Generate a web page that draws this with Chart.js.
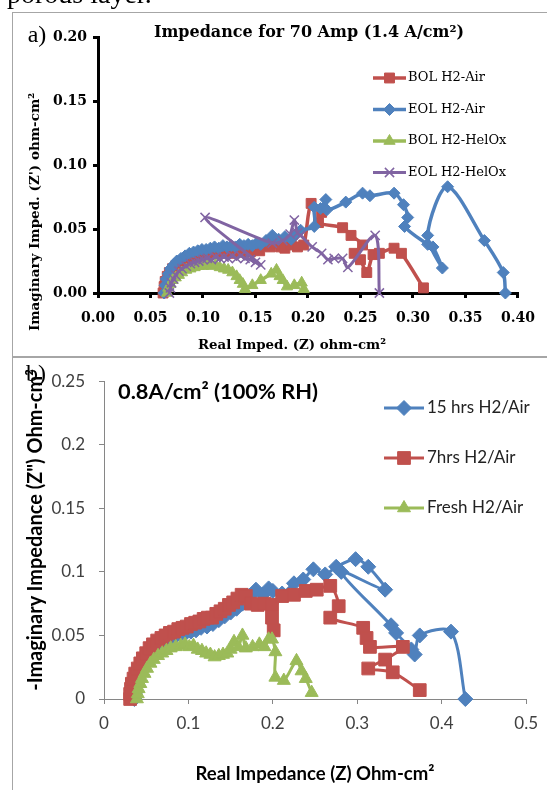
<!DOCTYPE html>
<html>
<head>
<meta charset="utf-8">
<script src="https://cdn.jsdelivr.net/npm/chart.js@4.4.1/dist/chart.umd.min.js"></script>
<style>
  body { margin: 0; background: #fff; width: 547px; height: 790px; position: relative; overflow: hidden; }
  canvas { position: absolute; left: 0; }
  .t { position: absolute; white-space: nowrap; line-height: 1; color: #000; transform: translate(-50%, -50%); }
  .rot { transform: translate(-50%, -50%) rotate(-90deg); }
  .serif { font-family: "DejaVu Serif", serif; font-weight: bold; font-size: 13px; }
  .sans { font-family: Lato, "Noto Sans", sans-serif; font-weight: bold; font-size: 16px; }
  .times { font-family: "Liberation Serif", serif; }
  .line { position: absolute; background: #a6a6a6; }
</style>
</head>
<body>
<!-- cadres gris des deux panneaux -->
<div class="line" style="left:12px;top:12px;width:1px;height:778px"></div>
<div class="line" style="left:12px;top:12px;width:535px;height:1px"></div>
<div class="line" style="left:12px;top:356px;width:535px;height:2px"></div>

<canvas id="chartA" width="547" height="357" style="top:0"></canvas>
<canvas id="chartB" width="547" height="433" style="top:357px"></canvas>

<div class="times" style="position:absolute;left:7px;top:-20px;font-size:28px;line-height:1;white-space:nowrap">porous layer.</div>
<div class="t times" style="left:37px;top:34px;font-size:24px">a)</div>
<div class="t times" style="left:36px;top:373px;font-size:24px">b)</div>

<div class="t serif" data-w="310" style="left:309px;top:32px">Impedance for 70 Amp (1.4 A/cm²)</div>
<div class="t serif rot" data-w="238" style="left:35px;top:212px">Imaginary Imped. (Z') ohm-cm²</div>
<div class="t serif" data-w="188" style="left:292px;top:345px">Real Imped. (Z) ohm-cm²</div>

<div class="t sans" data-w="200" style="left:218px;top:391px;font-size:18px">0.8A/cm² (100% RH)</div>
<div class="t sans rot" data-w="322" style="left:35px;top:530px">-Imaginary Impedance (Z") Ohm-cm²</div>
<div class="t sans" data-w="239" style="left:315px;top:773px">Real Impedance (Z) Ohm-cm²</div>

<script>
// ---- graphique a) : 70 A (1.4 A/cm2) ----
const bolAirX = [0.062, 0.063, 0.064, 0.066, 0.068, 0.071, 0.074, 0.077, 0.081, 0.085, 0.089, 0.093, 0.097, 0.101, 0.105, 0.109, 0.113, 0.117, 0.121, 0.125, 0.129, 0.133, 0.137, 0.141, 0.145, 0.149, 0.154, 0.159, 0.164, 0.169, 0.174, 0.178, 0.184, 0.190, 0.196, 0.203, 0.213, 0.210, 0.233, 0.241, 0.252, 0.244, 0.250, 0.256, 0.262, 0.268, 0.282, 0.289, 0.310];
const bolAirY = [0.000, 0.005, 0.009, 0.013, 0.016, 0.019, 0.021, 0.023, 0.025, 0.026, 0.027, 0.028, 0.029, 0.030, 0.030, 0.031, 0.031, 0.032, 0.031, 0.032, 0.031, 0.033, 0.032, 0.033, 0.032, 0.034, 0.033, 0.037, 0.036, 0.039, 0.036, 0.035, 0.0375, 0.036, 0.0375, 0.070, 0.063, 0.055, 0.051, 0.045, 0.0375, 0.031, 0.026, 0.016, 0.030, 0.031, 0.035, 0.031, 0.004];

const eolAirX = [0.063, 0.064, 0.065, 0.067, 0.069, 0.072, 0.075, 0.079, 0.083, 0.087, 0.091, 0.095, 0.099, 0.103, 0.107, 0.111, 0.115, 0.119, 0.123, 0.127, 0.131, 0.135, 0.139, 0.143, 0.147, 0.151, 0.155, 0.160, 0.166, 0.172, 0.178, 0.184, 0.189, 0.193, 0.206, 0.206, 0.212, 0.217, 0.218, 0.236, 0.252, 0.259, 0.282, 0.291, 0.295, 0.292, 0.314, 0.319, 0.328, 0.314, 0.333, 0.368, 0.386, 0.388];
const eolAirY = [0.000, 0.006, 0.011, 0.015, 0.019, 0.022, 0.025, 0.027, 0.029, 0.031, 0.032, 0.033, 0.034, 0.034, 0.035, 0.036, 0.035, 0.037, 0.036, 0.037, 0.036, 0.038, 0.037, 0.038, 0.037, 0.039, 0.038, 0.041, 0.045, 0.042, 0.044, 0.042, 0.046, 0.049, 0.052, 0.067, 0.066, 0.073, 0.065, 0.071, 0.078, 0.076, 0.078, 0.069, 0.059, 0.052, 0.038, 0.036, 0.0195, 0.045, 0.083, 0.041, 0.016, 0.000];

const bolHelX = [0.066, 0.067, 0.069, 0.071, 0.074, 0.077, 0.080, 0.084, 0.088, 0.092, 0.096, 0.100, 0.104, 0.108, 0.112, 0.116, 0.120, 0.124, 0.128, 0.132, 0.135, 0.138, 0.140, 0.147, 0.155, 0.165, 0.170, 0.173, 0.176, 0.180, 0.187, 0.194, 0.196];
const bolHelY = [0.000, 0.004, 0.007, 0.010, 0.012, 0.014, 0.016, 0.018, 0.019, 0.020, 0.021, 0.021, 0.022, 0.021, 0.022, 0.020, 0.019, 0.018, 0.016, 0.013, 0.010, 0.007, 0.003, 0.006, 0.010, 0.015, 0.018, 0.013, 0.010, 0.005, 0.006, 0.008, 0.003];

const eolHelX = [0.068, 0.069, 0.070, 0.072, 0.074, 0.077, 0.080, 0.084, 0.088, 0.092, 0.096, 0.100, 0.104, 0.108, 0.112, 0.116, 0.120, 0.124, 0.128, 0.132, 0.136, 0.140, 0.145, 0.150, 0.155, 0.102, 0.166, 0.176, 0.183, 0.187, 0.190, 0.193, 0.204, 0.213, 0.219, 0.225, 0.233, 0.238, 0.264, 0.268];
const eolHelY = [0.000, 0.004, 0.008, 0.011, 0.014, 0.017, 0.019, 0.021, 0.023, 0.024, 0.025, 0.026, 0.027, 0.026, 0.028, 0.027, 0.028, 0.027, 0.029, 0.027, 0.029, 0.027, 0.026, 0.024, 0.022, 0.059, 0.039, 0.041, 0.046, 0.057, 0.047, 0.045, 0.036, 0.031, 0.026, 0.027, 0.027, 0.020, 0.045, 0.000];

const ticksA_x = [0, 0.40, 0.05];   // min, max, pas
const ticksA_y = [0, 0.20, 0.05];

// ---- graphique b) : 0.8 A/cm2 (100% RH) ----
const h15X = [0.036, 0.037, 0.038, 0.040, 0.042, 0.045, 0.048, 0.052, 0.056, 0.061, 0.066, 0.072, 0.078, 0.084, 0.091, 0.097, 0.103, 0.109, 0.115, 0.122, 0.129, 0.136, 0.143, 0.150, 0.157, 0.164, 0.172, 0.180, 0.188, 0.195, 0.200, 0.211, 0.225, 0.236, 0.248, 0.262, 0.275, 0.298, 0.313, 0.333, 0.281, 0.340, 0.346, 0.364, 0.368, 0.374, 0.411, 0.428];
const h15Y = [0.000, 0.005, 0.010, 0.015, 0.020, 0.024, 0.028, 0.032, 0.036, 0.039, 0.042, 0.045, 0.047, 0.049, 0.051, 0.052, 0.053, 0.054, 0.056, 0.057, 0.059, 0.062, 0.065, 0.068, 0.071, 0.075, 0.081, 0.086, 0.082, 0.087, 0.085, 0.083, 0.091, 0.094, 0.102, 0.098, 0.104, 0.110, 0.104, 0.086, 0.100, 0.058, 0.052, 0.039, 0.035, 0.050, 0.053, 0.000];

const h7X = [0.031, 0.031, 0.032, 0.033, 0.035, 0.037, 0.040, 0.043, 0.046, 0.050, 0.054, 0.058, 0.063, 0.068, 0.073, 0.078, 0.083, 0.088, 0.093, 0.098, 0.103, 0.108, 0.113, 0.118, 0.123, 0.128, 0.133, 0.138, 0.143, 0.148, 0.153, 0.158, 0.163, 0.168, 0.174, 0.182, 0.190, 0.199, 0.201, 0.199, 0.211, 0.225, 0.239, 0.252, 0.268, 0.278, 0.268, 0.307, 0.311, 0.315, 0.354, 0.333, 0.313, 0.342, 0.374];
const h7Y = [0.000, 0.004, 0.008, 0.012, 0.016, 0.020, 0.024, 0.028, 0.032, 0.036, 0.040, 0.043, 0.046, 0.048, 0.050, 0.052, 0.053, 0.055, 0.056, 0.057, 0.059, 0.060, 0.061, 0.063, 0.064, 0.064, 0.067, 0.069, 0.071, 0.074, 0.076, 0.079, 0.082, 0.081, 0.075, 0.074, 0.075, 0.074, 0.054, 0.064, 0.081, 0.082, 0.085, 0.086, 0.089, 0.073, 0.064, 0.056, 0.048, 0.041, 0.041, 0.031, 0.024, 0.021, 0.007];

const freshX = [0.039, 0.040, 0.041, 0.043, 0.045, 0.048, 0.051, 0.055, 0.059, 0.064, 0.069, 0.074, 0.079, 0.085, 0.091, 0.096, 0.101, 0.106, 0.111, 0.116, 0.121, 0.126, 0.131, 0.136, 0.141, 0.146, 0.150, 0.154, 0.159, 0.164, 0.168, 0.176, 0.184, 0.190, 0.195, 0.199, 0.203, 0.203, 0.213, 0.228, 0.234, 0.239, 0.246];
const freshY = [0.000, 0.004, 0.008, 0.012, 0.016, 0.020, 0.024, 0.028, 0.031, 0.034, 0.036, 0.038, 0.040, 0.041, 0.042, 0.043, 0.041, 0.042, 0.039, 0.038, 0.036, 0.035, 0.033, 0.034, 0.035, 0.036, 0.039, 0.045, 0.041, 0.050, 0.040, 0.041, 0.043, 0.041, 0.047, 0.047, 0.037, 0.017, 0.0145, 0.030, 0.022, 0.016, 0.005];

const ticksB_x = [0, 0.5, 0.1];
const ticksB_y = [0, 0.25, 0.05];

// couleurs Excel
const BLUE = '#4f81bd', RED = '#c0504d', GREEN = '#9bbb59', PURPLE = '#8064a2';

// ajuste la taille de police des textes pour tomber sur la largeur du modèle
document.querySelectorAll('[data-w]').forEach(el => {
    const size = parseFloat(getComputedStyle(el).fontSize);
    el.style.fontSize = (size * (+el.dataset.w) / el.offsetWidth) + 'px';
});

function serie(label, xs, ys, color, style, radius, order, pbw, bw) {
    return {
        label: label,
        data: xs.map((x, i) => ({ x: x, y: ys[i] })),
        borderColor: color,
        backgroundColor: color,
        pointBackgroundColor: color,
        pointBorderColor: color,
        pointStyle: style,
        pointRadius: radius,
        pointBorderWidth: pbw || 1,
        borderWidth: bw || 3,
        showLine: true,
        tension: 0.3,
        clip: 12,
        order: order
    };
}

// légende verticale dessinée à la main (entrées à gauche, pas fixe)
const sideLegend = {
    id: 'sideLegend',
    afterDatasetsDraw(chart, args, o) {
        const ctx = chart.ctx;
        chart.data.datasets.forEach((ds, i) => {
            const y = o.y + i * o.gap;
            ctx.save();
            ctx.strokeStyle = ds.borderColor;
            ctx.lineWidth = ds.borderWidth;
            ctx.beginPath();
            ctx.moveTo(o.x, y);
            ctx.lineTo(o.x + o.len, y);
            ctx.stroke();
            ctx.fillStyle = ds.pointBackgroundColor;
            ctx.strokeStyle = ds.pointBorderColor;
            ctx.lineWidth = ds.pointBorderWidth;
            Chart.helpers.drawPoint(ctx, { pointStyle: ds.pointStyle, radius: ds.pointRadius, borderWidth: ds.pointBorderWidth, rotation: 0 }, o.x + o.len / 2, y);
            ctx.fillStyle = o.color;
            ctx.font = o.font;
            ctx.textBaseline = 'middle';
            ctx.textAlign = 'left';
            ctx.fillText(ds.label, o.x + o.len + o.pad, y);
            ctx.restore();
        });
    }
};

function axe(lim, opts) {
    return {
        type: 'linear',
        min: lim[0],
        max: lim[1],
        border: { color: opts.color, width: opts.width },
        grid: { drawOnChartArea: false, drawTicks: true, tickLength: 5, color: opts.color, lineWidth: opts.width },
        ticks: {
            stepSize: lim[2],
            autoSkip: false,
            maxRotation: 0,
            padding: opts.pad,
            color: opts.text,
            font: opts.font,
            callback: opts.fmt
        },
        afterFit: opts.fit
    };
}

// Graphique a)
const fontA = { family: 'DejaVu Serif', weight: 'bold', size: 14 };
new Chart(document.getElementById('chartA').getContext('2d'), {
    type: 'scatter',
    data: {
        datasets: [
            serie('BOL H2-Air', bolAirX, bolAirY, RED, 'rect', 7, 4, 1, 3.5),
            serie('EOL H2-Air', eolAirX, eolAirY, BLUE, 'rectRot', 6, 3, 1, 3.5),
            serie('BOL H2-HelOx', bolHelX, bolHelY, GREEN, 'triangle', 6.5, 2, 1, 3.5),
            serie('EOL H2-HelOx', eolHelX, eolHelY, PURPLE, 'crossRot', 6.5, 1, 1.5, 3)
        ]
    },
    options: {
        responsive: false,
        animation: false,
        layout: { padding: { left: 0, top: 37, right: 17, bottom: 24 } },
        scales: {
            x: axe(ticksA_x, { color: '#000', width: 3, pad: 12, text: '#000', font: fontA, fmt: v => v.toFixed(2), fit: s => { s.height = 40; } }),
            y: axe(ticksA_y, { color: '#000', width: 3, pad: 6, text: '#000', font: fontA, fmt: v => v.toFixed(2), fit: s => { s.width = 98; } })
        },
        plugins: {
            legend: { display: false },
            tooltip: { enabled: false },
            sideLegend: { x: 373, y: 78, gap: 31.5, len: 33, pad: 2, color: '#000', font: '13px "DejaVu Serif"' }
        }
    },
    plugins: [sideLegend]
});

// Graphique b)
const fontB = { family: 'Lato', size: 17 };
new Chart(document.getElementById('chartB').getContext('2d'), {
    type: 'scatter',
    data: {
        datasets: [
            serie('15 hrs H2/Air', h15X, h15Y, BLUE, 'rectRot', 7.5, 3),
            serie('7hrs H2/Air', h7X, h7Y, RED, 'rect', 9, 2),
            serie('Fresh H2/Air', freshX, freshY, GREEN, 'triangle', 7.5, 1)
        ]
    },
    options: {
        responsive: false,
        animation: false,
        layout: { padding: { left: 0, top: 15, right: 19, bottom: 51 } },
        scales: {
            x: axe(ticksB_x, { color: '#868686', width: 1, pad: 9, text: '#404040', font: fontB, fmt: v => +v.toFixed(2), fit: s => { s.height = 40; } }),
            y: axe(ticksB_y, { color: '#868686', width: 1, pad: 14, text: '#404040', font: fontB, fmt: v => +v.toFixed(2), fit: s => { s.width = 104; } })
        },
        plugins: {
            legend: { display: false },
            tooltip: { enabled: false },
            sideLegend: { x: 384, y: 51, gap: 50, len: 40, pad: 3, color: '#222', font: '17px Lato' }
        }
    },
    plugins: [sideLegend]
});
</script>
</body>
</html>
